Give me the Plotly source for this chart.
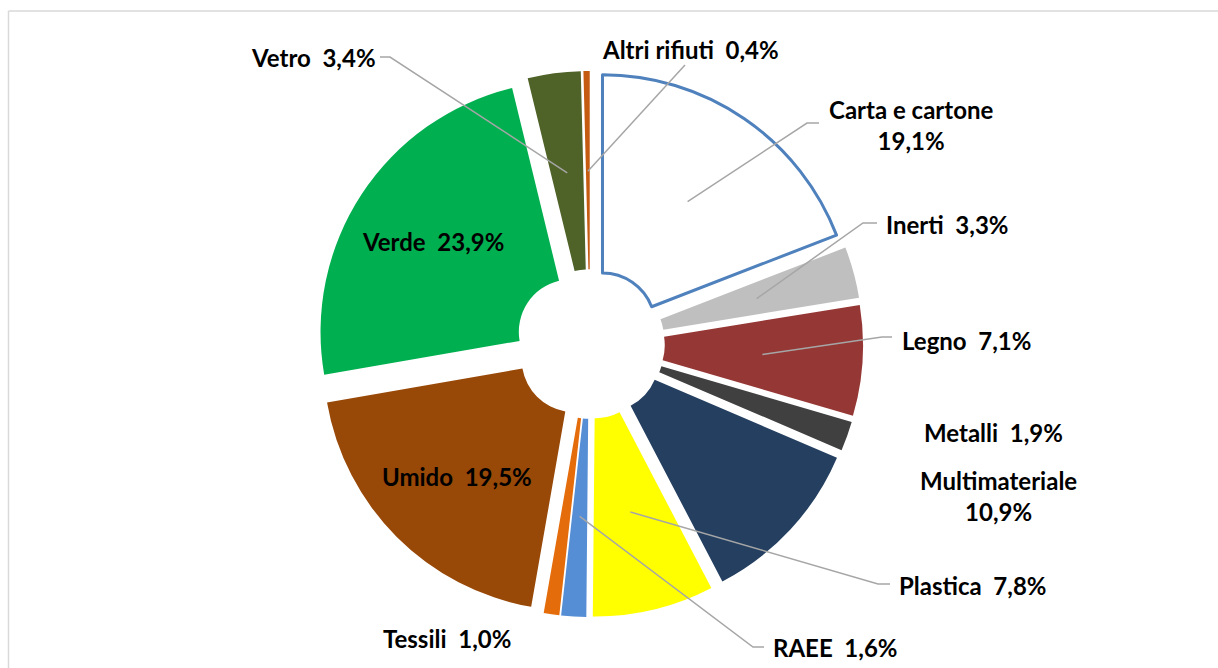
import math
import plotly.graph_objects as go

# ---------------- data ----------------
categories = ["Carta e cartone", "Inerti", "Legno", "Metalli", "Multimateriale",
              "Plastica", "RAEE", "Tessili", "Umido", "Verde", "Vetro", "Altri rifiuti"]
values = [19.1, 3.3, 7.1, 1.9, 10.9, 7.8, 1.6, 1.0, 19.5, 23.9, 3.4, 0.4]
value_labels = ["19,1%", "3,3%", "7,1%", "1,9%", "10,9%", "7,8%",
                "1,6%", "1,0%", "19,5%", "23,9%", "3,4%", "0,4%"]

colors = ["#FFFFFF", "#BFBFBF", "#953735", "#404040", "#243F60", "#FFFF00",
          "#558ED5", "#E46C0A", "#984807", "#00B050", "#4F6228", "#C55A11"]

# ---------------- layout constants (pixels) ----------------
W, H = 1218, 668
CX, CY = 590.0, 344.0      # pie centre
R = 251.0                   # pie radius
PULL = 0.088
HOLE = 0.21
FONT = "Lato"
FS = 24

def px(x):
    return x / W

def py(y):
    return 1 - y / H

half_box = R * (1 + PULL)
dom_x = [px(CX - half_box), px(CX + half_box)]
dom_y = [py(CY + half_box), py(CY - half_box)]

total = sum(values)
mids = []
acc = 0.0
for v in values:
    mids.append((acc + v / 2) / total * 360.0)
    acc += v

def polar(i, frac):
    a = math.radians(mids[i])
    d = PULL * R + frac * R
    return CX + d * math.sin(a), CY - d * math.cos(a)

fig = go.Figure()
fig.add_trace(go.Pie(
    labels=categories, values=values, sort=False, direction="clockwise",
    rotation=0, hole=HOLE, pull=[PULL] * len(values),
    marker=dict(colors=colors,
                line=dict(color="#4F81BD",
                          width=[3] + [0] * (len(values) - 1))),
    textinfo="none", hoverinfo="label+percent", showlegend=False,
    domain=dict(x=dom_x, y=dom_y),
))

shapes = []
annotations = []

# frame
shapes.append(dict(type="line", xref="paper", yref="paper",
                   x0=px(8.5), x1=px(W + 20), y0=py(11), y1=py(11),
                   line=dict(color="#D9D9D9", width=1.5)))
shapes.append(dict(type="line", xref="paper", yref="paper",
                   x0=px(8.5), x1=px(8.5), y0=py(11), y1=py(H + 20),
                   line=dict(color="#D9D9D9", width=1.5)))

# label placement (pixels): text position, anchor, leader path points
label_spec = {
    "Carta e cartone": dict(x=911, y=125, anchor="center", two_lines=True,
                            leader=[(807, 123), (819, 123)]),
    "Inerti": dict(x=884, y=225, anchor="left", leader=[(863, 223), (877, 223)]),
    "Legno": dict(x=900, y=340, anchor="left", leader=[(882, 337), (892, 337)]),
    "Metalli": dict(x=922, y=432, anchor="left", leader=None),
    "Multimateriale": dict(x=998, y=496, anchor="center", two_lines=True, leader=None),
    "Plastica": dict(x=897, y=585, anchor="left", leader=[(878, 584), (890, 584)]),
    "RAEE": dict(x=771, y=647, anchor="left", leader=[(753, 647), (764, 647)]),
    "Tessili": dict(x=381, y=638, anchor="left", leader=None),
    "Vetro": dict(x=378, y=58, anchor="right", leader=[(390, 57), (380, 57)]),
    "Altri rifiuti": dict(x=600, y=50, anchor="left", leader=[(685, 65)]),
}
inside = ["Umido", "Verde"]

for i, name in enumerate(categories):
    if name in inside:
        x, y = polar(i, 0.66)
        annotations.append(dict(
            x=px(x), y=py(y), xref="paper", yref="paper", showarrow=False,
            text="<b>%s\u00a0 %s</b>" % (name, value_labels[i]),
            font=dict(family=FONT, size=FS, color="#000000"),
            xanchor="center", yanchor="middle"))
        continue
    spec = label_spec[name]
    if spec.get("two_lines"):
        txt = "<b>%s<br>%s</b>" % (name, value_labels[i])
    else:
        txt = "<b>%s\u00a0 %s</b>" % (name, value_labels[i])
    annotations.append(dict(
        x=px(spec["x"]), y=py(spec["y"]), xref="paper", yref="paper",
        showarrow=False, text=txt, align="center",
        font=dict(family=FONT, size=FS, color="#000000"),
        xanchor=spec["anchor"], yanchor="middle"))
    if spec["leader"]:
        sx, sy = polar(i, 0.6)
        pts = [(sx, sy)] + spec["leader"]
        path = "M %f,%f " % (px(pts[0][0]), py(pts[0][1]))
        for (qx, qy) in pts[1:]:
            path += "L %f,%f " % (px(qx), py(qy))
        shapes.append(dict(type="path", xref="paper", yref="paper", path=path,
                           line=dict(color="#A6A6A6", width=1.5)))

fig.update_layout(
    width=W, height=H, margin=dict(l=0, r=0, t=0, b=0),
    paper_bgcolor="#FFFFFF", plot_bgcolor="#FFFFFF",
    shapes=shapes, annotations=annotations,
)

fig.write_html("out.html",
               config={"displayModeBar": False},
               post_script="document.body.style.margin='0';"
                           "document.body.style.overflow='hidden';")
